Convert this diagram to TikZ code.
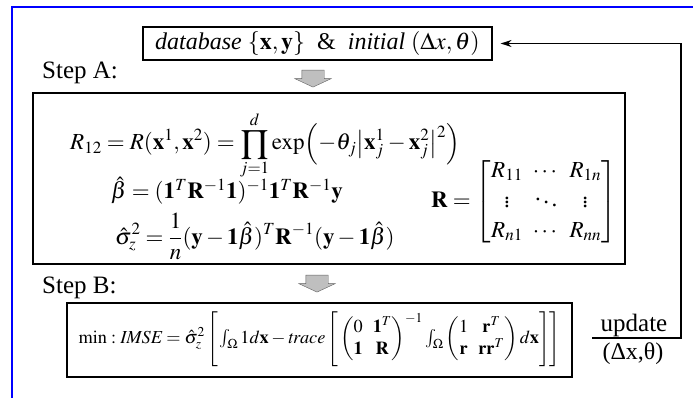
\documentclass[tikz,border=0pt]{standalone}
\usepackage{amsmath}
\usepackage{mathptmx}
\usepackage[no-math]{fontspec}
\setmainfont{Liberation Serif}
\usetikzlibrary{arrows.meta,positioning,shapes.arrows}

\begin{document}
\begin{tikzpicture}[x=1pt, y=1pt,
  box/.style={draw, line width=1.2pt, inner sep=0pt},
  lbl/.style={font=\fontsize{25}{29}\selectfont, anchor=west, inner sep=0pt},
  eqA/.style={font=\fontsize{23}{27}\selectfont, inner sep=0pt},
  dn/.style={single arrow, draw=gray!75!black, fill=gray!50, rotate=-90,
    minimum width=36pt, minimum height=17pt, single arrow head extend=7pt,
    single arrow tip angle=130, inner xsep=0pt, inner ysep=11pt},
  >={Stealth[length=11pt,width=7pt]}]
\useasboundingbox (0,0) rectangle (693,-398);
\draw[blue, line width=2pt] (12,-400) -- (12,-7) -- (695,-7);
% inputs
\node[box, minimum width=349pt, minimum height=33pt, font=\fontsize{24}{28}\selectfont]
  (db) at (317.5,-43.5) {\textit{database} $\{\mathbf{x},\mathbf{y}\}$ \ \& \ \textit{initial} $(\Delta x,\theta)$};
% step A
\node[lbl] (stA) at (42,-73) {Step A:};
\node[dn] (arA) at (313,-76) {};
\node[box, minimum width=592pt, minimum height=171pt] (boxA) at (329,-178.5) {};
\node[eqA, anchor=base west] (eqR) at (70,-150)
  {$\displaystyle R_{12}=R(\mathbf{x}^1,\mathbf{x}^2)=\prod_{j=1}^{d}\exp\Bigl(-\theta_j\bigl|\mathbf{x}^1_j-\mathbf{x}^2_j\bigr|^2\Bigr)$};
\node[eqA, anchor=base west] (eqB) at (111,-199)
  {$\hat{\beta}=(\mathbf{1}^T\mathbf{R}^{-1}\mathbf{1})^{-1}\mathbf{1}^T\mathbf{R}^{-1}\mathbf{y}$};
\node[eqA, anchor=base west] (eqS) at (115,-244)
  {$\displaystyle\hat{\sigma}_z^2=\frac{1}{n}(\mathbf{y}-\mathbf{1}\hat{\beta})^T\mathbf{R}^{-1}(\mathbf{y}-\mathbf{1}\hat{\beta})$};
\node[eqA, anchor=west] (eqM) at (431,-202)
  {$\mathbf{R}=\begin{bmatrix} R_{11} & \cdots & R_{1n}\\[3pt] \vdots & \ddots & \vdots\\[3pt] R_{n1} & \cdots & R_{nn}\end{bmatrix}$};
% step B
\node[lbl] (stB) at (42,-288) {Step B:};
\node[dn] (arB) at (317,-281) {};
\node[box, minimum width=505pt, minimum height=74pt] (boxB) at (319.5,-340) {};
\node[font=\fontsize{18.3}{22}\selectfont, inner sep=0pt] (eqI) at (boxB.center)
  {$\mathrm{min}:\mathit{IMSE}=\hat{\sigma}_z^2\left[\rule[-25pt]{0pt}{56pt}\int_{\Omega}1d\mathbf{x}-\mathit{trace}\left[\rule[-25pt]{0pt}{56pt}\begin{pmatrix}0 & \mathbf{1}^T\\ \mathbf{1} & \mathbf{R}\end{pmatrix}^{-1}\int_{\Omega}\begin{pmatrix}1 & \mathbf{r}^T\\ \mathbf{r} & \mathbf{r}\mathbf{r}^T\end{pmatrix}d\mathbf{x}\right]\right]$};
% feedback
\node[font=\fontsize{25}{29}\selectfont, inner sep=0pt] (upd) at (634,-325) {update};
\node[font=\fontsize{24}{28}\selectfont, inner sep=0pt] (par) at (633,-354) {(Δx,θ)};
\coordinate (barL) at (592,-338);
\coordinate (barR) at (681,-338);
\draw[line width=1.2pt, ->, shorten >=8pt] (barL) -- (barR) |- (db.east);
\end{tikzpicture}
\end{document}
